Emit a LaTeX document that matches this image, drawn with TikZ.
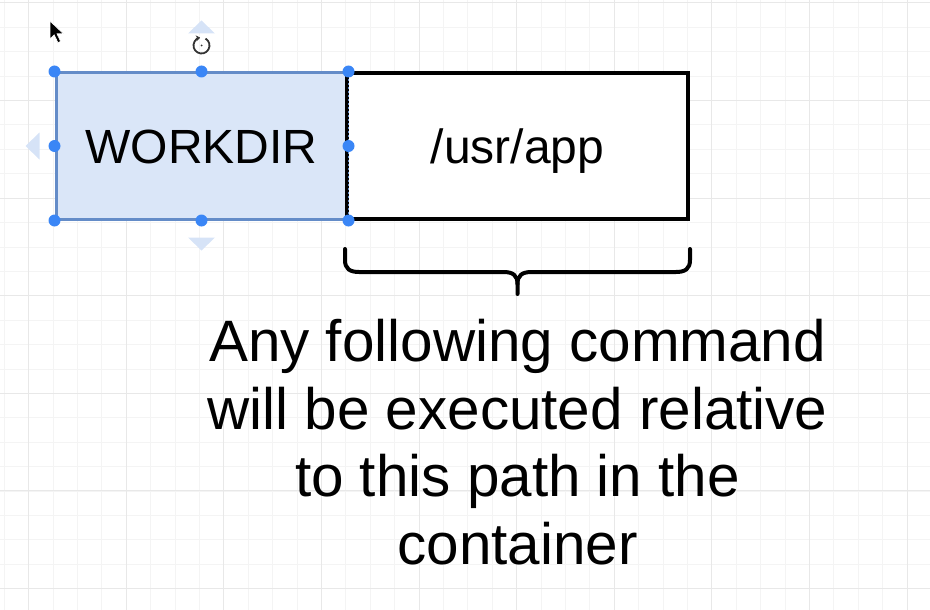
\documentclass[tikz,border=0pt]{standalone}
\usepackage{fontspec}
\setmainfont{Liberation Sans}
\usetikzlibrary{calc}
\usetikzlibrary{arrows.meta}
\definecolor{selfill}{RGB}{218,230,248}
\definecolor{selline}{RGB}{100,140,200}
\definecolor{handle}{RGB}{58,134,246}
\definecolor{ghost}{RGB}{214,227,247}
\definecolor{gridmin}{RGB}{244,244,244}
\definecolor{gridmaj}{RGB}{232,232,232}
\tikzset{b/.style={font=\fontsize{48}{56}\selectfont, inner sep=0, text height=34pt, text depth=0pt, minimum height=146pt}}
\tikzset{t/.style={font=\fontsize{58.4}{67.7}\selectfont, inner sep=0, align=center}}
\tikzset{brace/.style={line width=4pt, line cap=round, line join=round}}

\begin{document}
\begin{tikzpicture}[x=1pt,y=-1pt]
        \useasboundingbox (0,0) rectangle (930,610);
        \foreach \i in {0,...,38} \draw[gridmin, line width=1pt] ({4.2+24.4*\i},0) -- ++(0,610);
        \foreach \j in {0,...,24} \draw[gridmin, line width=1pt] (0,{3+24.4*\j}) -- ++(930,0);
        \foreach \i in {0,...,9} \draw[gridmaj, line width=1pt] ({28.6+97.6*\i},0) -- ++(0,610);
        \foreach \j in {0,...,6} \draw[gridmaj, line width=1pt] (0,{3+97.5*\j}) -- ++(930,0);
        \node[b, draw=selline, line width=3pt, fill=selfill, minimum width=291pt] (wd) at (201.5,146) {WORKDIR};
        \node[b, draw=black, line width=4pt, fill=white, minimum width=341pt] (app) at (517.5,146) {/usr/app};
        \draw[selline, line width=1.5pt, dash pattern=on 2pt off 2pt] (wd.north east) -- (wd.south east);
        \foreach \a in {north west,north,north east,east,south east,south,south west,west}
          \fill[handle] (wd.\a) circle (6pt);
        \fill[ghost] ($(wd.north)+(0,-51)$) -- ++(-13.5,13) -- ++(27,0) -- cycle;
        \fill[ghost] ($(wd.south)+(0,30)$) -- ++(-13.5,-13) -- ++(27,0) -- cycle;
        \fill[ghost] ($(wd.west)+(-29,0)$) -- ++(14,-13.5) -- ++(0,27) -- cycle;
        \coordinate (rot) at ($(wd.north)+(0,-26)$);
        \draw[black!80, line width=1.8pt, -{Stealth[length=4pt,width=6pt]}] ($(rot)+(4,-6.93)$) arc[start angle=-60, end angle=260, radius=8];
        \fill[black!80] (rot) circle (1pt);
        \fill[black, draw=white, line width=0.6pt] (50,21) -- ++(0,18) -- ++(4.2,-4.2) -- ++(3.7,7.8) -- ++(2.7,-1.2) -- ++(-3.6,-7.6) -- ++(6.4,0) -- cycle;
        \draw[brace] ($(app.south west)+(0,28)$) -- ++(0,11) .. controls +(0,9) and +(-9,0) .. ++(14,12)
          -- ($(app.south)+(-14,51)$) .. controls +(9,0) and +(0,-9) .. ++(14,12) -- ++(0,10);
        \draw[brace] ($(app.south east)+(0,28)$) -- ++(0,11) .. controls +(0,9) and +(9,0) .. ++(-14,12)
          -- ($(app.south)+(14,51)$) .. controls +(-9,0) and +(0,-9) .. ++(-14,12);
        \node[t, anchor=north] (note) at ($(app.south)+(0,98)$) {Any following command\\will be executed relative\\to this path in the\\container};
      \end{tikzpicture}
\end{document}
